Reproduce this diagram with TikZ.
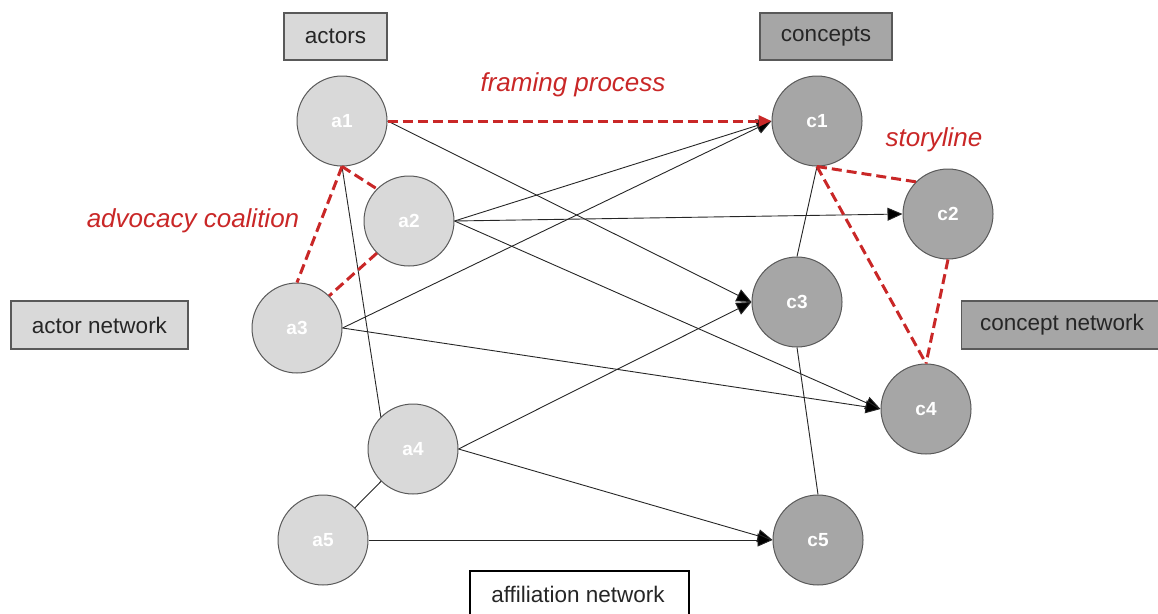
\documentclass[tikz,border=0pt]{standalone}
\usepackage{fontspec}
\setmainfont{Liberation Sans}
\usetikzlibrary{arrows.meta}
\definecolor{lightnode}{HTML}{D9D9D9}
\definecolor{darknode}{HTML}{A6A6A6}
\definecolor{edgegray}{HTML}{595959}
\definecolor{redline}{HTML}{C92727}
\definecolor{linecol}{HTML}{262626}
\begin{document}
\begin{tikzpicture}[x=1pt,y=-1pt,
  base/.style={circle,minimum size=90pt,inner sep=0pt,draw=edgegray,line width=1pt,
    text=white,font=\fontsize{19}{22}\selectfont\bfseries},
  actor/.style={base,fill=lightnode},
  concept/.style={base,fill=darknode},
  tag/.style={draw=edgegray,line width=1.2pt,inner sep=0pt,text=black!85,
    font=\fontsize{22.5}{26}\selectfont},
  redlabel/.style={text=redline,font=\fontsize{26}{30}\selectfont\itshape},
  arr/.style={draw=linecol,line width=0.9pt,-{Triangle[length=15pt,width=13pt,fill=black]}},
  plain/.style={draw=linecol,line width=0.9pt},
  reddash/.style={draw=redline,line width=3pt,dash pattern=on 10pt off 5pt},
]
\useasboundingbox (0,0) rectangle (1158,613);
\clip (0,0) rectangle (1158,613);
% tags
\node[tag,fill=lightnode,minimum width=103pt,minimum height=47pt] (tactors) at (335.5,36.5) {actors};
\node[tag,fill=darknode,minimum width=132pt,minimum height=47pt] (tconcepts) at (826,36.5) {concepts};
\node[tag,fill=lightnode,minimum width=177pt,minimum height=48pt] (tactnet) at (99.5,325) {actor network};
\node[tag,fill=darknode,minimum width=200pt,minimum height=48pt,anchor=west] (tconnet) at (961,325) {};
\node[text=black!85,font=\fontsize{22.5}{26}\selectfont] (tconnettext) at (1062,325) {concept network};
\node[draw=black,line width=2pt,fill=white,minimum width=219pt,minimum height=60pt,anchor=north west,inner sep=0pt] (taff) at (469,570) {};
\node[text=black!85,font=\fontsize{22.5}{26}\selectfont] (tafftext) at (578,594) {affiliation network};
% red labels
\node[redlabel] (lframe) at (573,85) {framing process};
\node[redlabel] (lstory) at (934,140) {storyline};
\node[redlabel] (ladv) at (193,221) {advocacy coalition};
% nodes
\node[actor] (a1) at (342,121) {a1};
\node[actor] (a2) at (409,221) {a2};
\node[actor] (a3) at (297,328) {a3};
\node[actor] (a4) at (413,449) {a4};
\node[actor] (a5) at (323,540) {a5};
\node[concept] (c1) at (817,121) {c1};
\node[concept] (c2) at (948,214) {c2};
\node[concept] (c3) at (797,302) {c3};
\node[concept] (c4) at (926,409) {c4};
\node[concept] (c5) at (818,540) {c5};
% plain connections
\draw[plain] (a1.south) -- (a4.north west);
\draw[plain] (a4) -- (a5);
\draw[plain] (c1.south) -- (c3.north);
\draw[plain] (c3.south) -- (c5.north);
% arrows
\draw[arr] (a1.east) -- (c3.west);
\draw[arr] (a2.east) -- (c1.west);
\draw[arr] (a2.east) -- (c2.west);
\draw[arr] (a2.east) -- (c4.west);
\draw[arr] (a3.east) -- (c1.west);
\draw[arr] (a3.east) -- (c4.west);
\draw[arr] (a4.east) -- (c3.west);
\draw[arr] (a4.east) -- (c5.west);
\draw[arr] (a5.east) -- (c5.west);
% red dashed
\draw[reddash,-{Triangle[length=13pt,width=11pt]}] (a1.east) -- (c1.west);
\draw[reddash] (a1.south) -- (a2.north west);
\draw[reddash] (a1.south) -- (a3.north);
\draw[reddash] (a2.south west) -- (a3.north east);
\draw[reddash] (c1.south) -- (c2.north west);
\draw[reddash] (c1.south) -- (c4.north);
\draw[reddash] (c2.south) -- (c4.north);
\end{tikzpicture}
\end{document}
